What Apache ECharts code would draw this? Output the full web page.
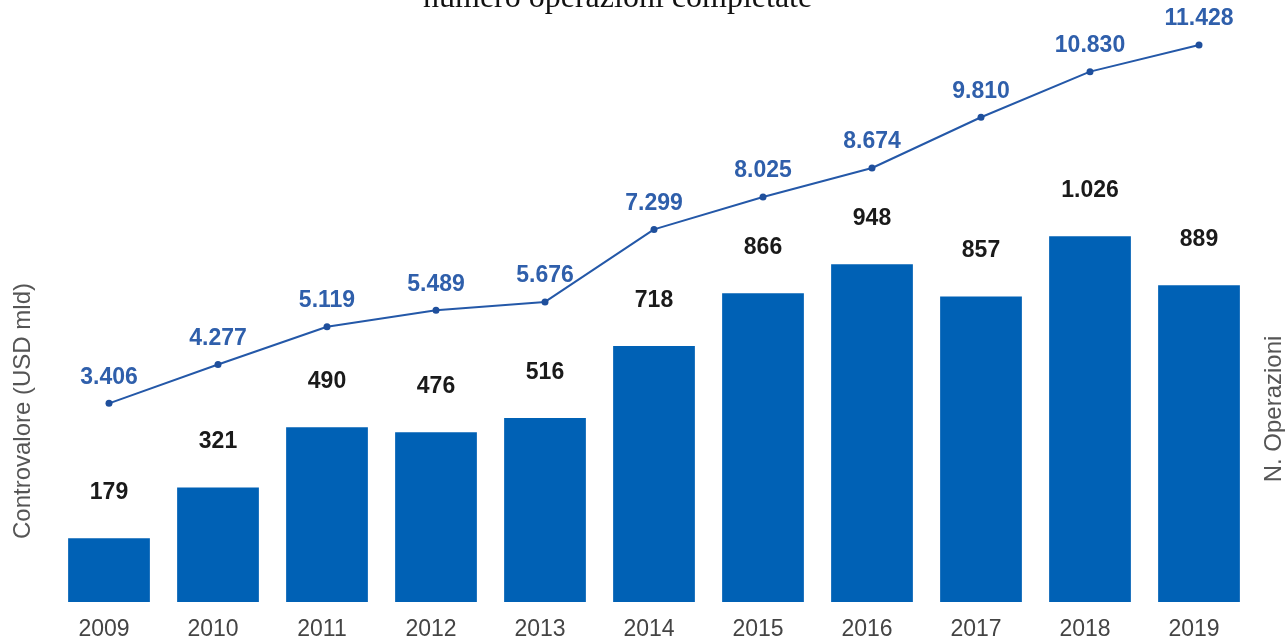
<!DOCTYPE html>
<html>
<head>
<meta charset="utf-8">
<script src="https://cdn.jsdelivr.net/npm/echarts@6/dist/echarts.min.js"></script>
<style>
  html, body { margin: 0; padding: 0; background: #fff; }
  #chart { width: 1285px; height: 641px; }
</style>
</head>
<body>
<div id="chart"></div>
<script>
// Anni
const years = ['2009', '2010', '2011', '2012', '2013', '2014', '2015', '2016', '2017', '2018', '2019'];
// Controvalore delle operazioni (USD mld)
const controvalore = [3406, 4277, 5119, 5489, 5676, 7299, 8025, 8674, 9810, 10830, 11428];
// Numero di operazioni completate
const operazioni = [179, 321, 490, 476, 516, 718, 866, 948, 857, 1026, 889];

// Separatore delle migliaia con il punto
function fmt(v) {
  return String(v).replace(/\B(?=(\d{3})+(?!\d))/g, '.');
}

const chart = echarts.init(document.getElementById('chart'), null, { renderer: 'canvas' });
const sans = 'Liberation Sans, Arial, sans-serif';

chart.setOption({
  animation: false,
  title: {
    text: 'numero operazioni completate',
    left: 418,
    top: -22,
    textStyle: { fontFamily: 'Liberation Serif, Times New Roman, serif', fontWeight: 'normal', fontSize: 32, color: '#111' }
  },
  grid: { left: 54.5, right: 31.5, top: 20, bottom: 38 },
  xAxis: {
    type: 'category',
    data: years,
    axisLine: { show: false },
    axisTick: { show: false },
    axisLabel: { color: '#444', fontSize: 23, fontFamily: sans, margin: 16, padding: [0, 10, 0, 0] }
  },
  yAxis: [
    { type: 'value', min: -1040, max: 11986, show: false },
    { type: 'value', min: 0, max: 1633, show: false }
  ],
  series: [
    {
      type: 'bar',
      yAxisIndex: 1,
      data: operazioni,
      barCategoryGap: '25%',
      itemStyle: { color: '#0061b5' },
      label: {
        show: true, position: 'top', distance: 34,
        formatter: p => fmt(p.value),
        color: '#1a1a1a', fontWeight: 'bold', fontSize: 23, fontFamily: sans
      },
      z: 1
    },
    {
      type: 'line',
      yAxisIndex: 0,
      data: controvalore,
      symbol: 'circle',
      symbolSize: 7,
      lineStyle: { color: '#2458a8', width: 2 },
      itemStyle: { color: '#1f4f9c' },
      label: {
        show: true, position: 'top', distance: 11,
        formatter: p => fmt(p.value),
        color: '#2f5fab', fontWeight: 'bold', fontSize: 23, fontFamily: sans
      },
      z: 3
    }
  ],
  graphic: [
    {
      type: 'text', x: 23, y: 411, rotation: Math.PI / 2,
      style: { text: 'Controvalore (USD mld)', fill: '#555', font: '24px ' + sans, align: 'center', verticalAlign: 'middle' }
    },
    {
      type: 'text', x: 1274, y: 409, rotation: Math.PI / 2,
      style: { text: 'N. Operazioni', fill: '#555', font: '24px ' + sans, align: 'center', verticalAlign: 'middle' }
    }
  ]
});
</script>
</body>
</html>
